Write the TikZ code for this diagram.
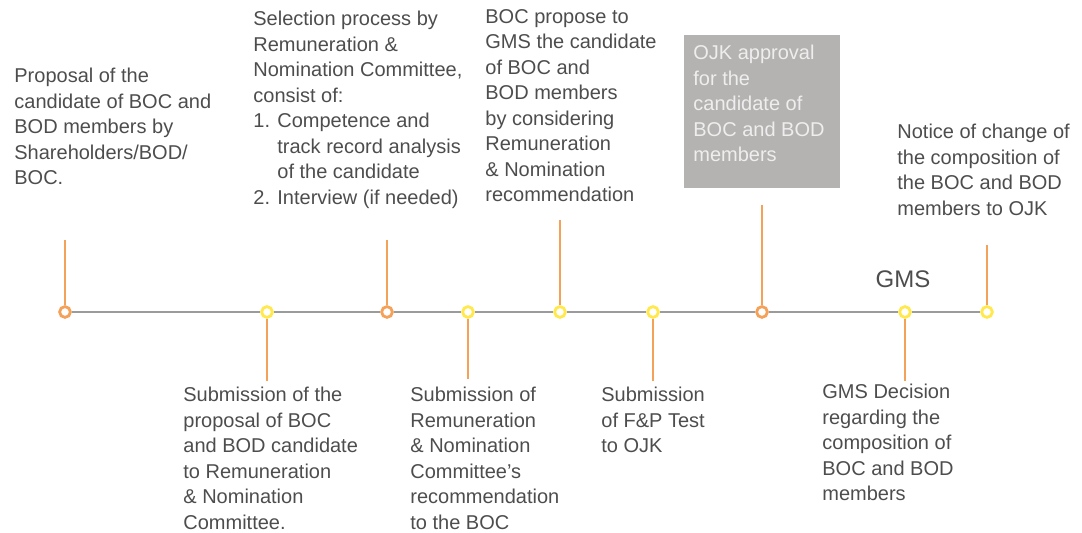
\documentclass[tikz,border=0pt]{standalone}
\usepackage{fontspec}
\setmainfont{Liberation Sans}
\usetikzlibrary{positioning}
\definecolor{tlorange}{HTML}{F4A15A}
\definecolor{tlyellow}{HTML}{FFE94D}
\definecolor{tlgray}{HTML}{9B9B9B}
\definecolor{tltext}{HTML}{4D4D4D}
\definecolor{tlbox}{HTML}{B5B3B1}
\definecolor{tlboxtext}{HTML}{EEEEEE}

\begin{document}
\begin{tikzpicture}[
  x=0.5pt, y=-0.5pt,
  dot/.style={
    circle, draw=#1, line width=1.4pt, fill=white,
    minimum size=5.4pt, inner sep=0pt
  },
  stem/.style={tlorange, line width=1pt},
  axis/.style={tlgray, line width=1pt},
  desc/.style={
    font=\fontsize{10}{12.75}\selectfont, text=tltext,
    align=left, inner sep=0pt, anchor=north west
  },
  graybox/.style={
    rectangle, fill=tlbox, inner sep=0pt,
    minimum width=78pt, minimum height=76.5pt, anchor=north west
  }
]
  \useasboundingbox (0,0) rectangle (1082,533);

  % Timeline
  \node[dot=tlorange] (propose) at (65,312) {};
  \node[dot=tlyellow] (submit) at (267,312) {};
  \node[dot=tlorange] (select) at (387,312) {};
  \node[dot=tlyellow] (recom) at (468,312) {};
  \node[dot=tlyellow] (bocgms) at (560,312) {};
  \node[dot=tlyellow] (fptest) at (653,312) {};
  \node[dot=tlorange] (ojkok) at (762,312) {};
  \node[dot=tlyellow] (decide) at (905,312) {};
  \node[dot=tlyellow] (notice) at (987,312) {};

  \draw[axis] (propose) -- (submit) -- (select) -- (recom) -- (bocgms)
    -- (fptest) -- (ojkok) -- (decide) -- (notice);

  % Stems
  \coordinate (propose top) at (65,240);
  \coordinate (select top) at (387,240);
  \coordinate (bocgms top) at (560,220);
  \coordinate (ojkok top) at (762,205);
  \coordinate (notice top) at (987,245);
  \coordinate (submit bot) at (267,381);
  \coordinate (recom bot) at (468,379);
  \coordinate (fptest bot) at (653,381);
  \coordinate (decide bot) at (905,381);

  \draw[stem] (propose) -- (propose top);
  \draw[stem] (select) -- (select top);
  \draw[stem] (bocgms) -- (bocgms top);
  \draw[stem] (ojkok) -- (ojkok top);
  \draw[stem] (notice) -- (notice top);
  \draw[stem] (submit) -- (submit bot);
  \draw[stem] (recom) -- (recom bot);
  \draw[stem] (fptest) -- (fptest bot);
  \draw[stem] (decide) -- (decide bot);

  % Upper texts
  \node[desc] (propose text) at (14,68)
    {Proposal of the\\candidate of BOC and\\BOD members by\\Shareholders/BOD/\\BOC.};
  \node[desc] (select text) at (253,11)
    {Selection process by\\Remuneration \&\\Nomination Committee,\\consist of:\\
     \makebox[12pt][l]{1.}Competence and\\
     \hspace*{12pt}track record analysis\\
     \hspace*{12pt}of the candidate\\
     \makebox[12pt][l]{2.}Interview (if needed)};
  \node[desc] (bocgms text) at (485,9)
    {BOC propose to\\GMS the candidate\\of BOC and\\BOD members\\by considering\\Remuneration\\\& Nomination\\recommendation};
  \node[graybox] (ojkok box) at (684,35) {};
  \node[desc, text=tlboxtext, below right=5pt and 4.5pt of ojkok box.north west]
    (ojkok text) {OJK approval\\for the\\candidate of\\BOC and BOD\\members};
  \node[desc] (notice text) at (897,124)
    {Notice of change of\\the composition of\\the BOC and BOD\\members to OJK};
  \node[font=\fontsize{12}{13}\selectfont, text=tltext, inner sep=0pt]
    (gms) at (903,279) {GMS};

  % Lower texts
  \node[desc] (submit text) at (183,387)
    {Submission of the\\proposal of BOC\\and BOD candidate\\to Remuneration\\\& Nomination\\Committee.};
  \node[desc] (recom text) at (410,387)
    {Submission of\\Remuneration\\\& Nomination\\Committee's\\recommendation\\to the BOC};
  \node[desc] (fptest text) at (601,387)
    {Submission\\of F\&P Test\\to OJK};
  \node[desc] (decide text) at (822,384)
    {GMS Decision\\regarding the\\composition of\\BOC and BOD\\members};
\end{tikzpicture}
\end{document}
